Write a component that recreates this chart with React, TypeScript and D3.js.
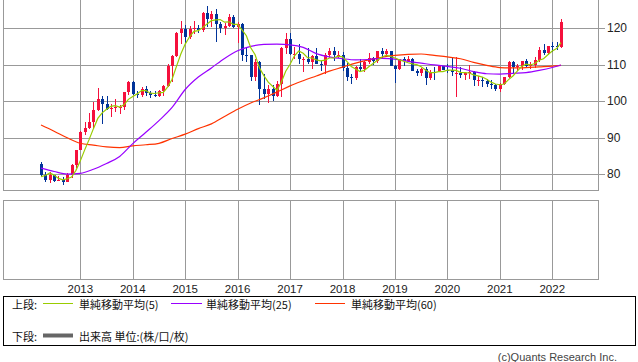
import React from 'react';
import * as d3 from 'd3';

// monthly candles, first one is April 2012
const startMonth = new Date(2012, 3, 1);

const opens = [
  82.9, 79.8, 78.4, 79.8, 78.1, 78.4, 77.9, 79.8, 82.5, 86.7,
  91.7, 92.6, 94.2, 97.5, 100.5, 99.1, 97.9, 98.1, 98.3, 98.4,
  102.4, 105.3, 102.0, 101.8, 103.2, 102.2, 101.8, 101.3, 102.8, 104.1,
  109.7, 112.3, 118.6, 119.8, 117.5, 119.6, 120.1, 119.4, 124.1, 122.5,
  123.9, 121.2, 119.9, 120.6, 123.1, 120.2, 121.1, 112.7, 112.5, 106.5,
  110.7, 103.2, 102.1, 103.4, 101.3, 104.8, 114.5, 117.0, 112.7, 112.8,
  111.4, 111.5, 110.8, 112.4, 110.3, 110.0, 112.5, 113.6, 112.5, 112.7,
  109.2, 106.7, 106.3, 109.3, 108.8, 110.7, 111.9, 111.0, 113.7, 112.9,
  113.6, 109.7, 108.9, 111.4, 110.9, 111.4, 108.3, 107.8, 108.7, 106.3,
  108.1, 108.0, 109.5, 108.6, 108.4, 107.4, 107.6, 107.2, 107.8, 107.9,
  105.8, 105.9, 105.5, 104.7, 104.3, 103.2, 104.7, 106.6, 110.7, 109.3,
  109.6, 111.1, 109.7, 110.0, 111.3, 114.0, 113.2, 115.1, 115.0, 114.8,
];

const highs = [
  83.3, 80.6, 80.6, 79.9, 79.6, 79.2, 80.3, 82.8, 86.8, 91.8,
  94.4, 96.7, 99.9, 103.7, 101.5, 101.5, 99.1, 100.6, 99.0, 102.4,
  105.4, 105.4, 102.8, 103.8, 104.1, 102.8, 102.8, 103.1, 104.5, 110.1,
  112.5, 118.9, 121.8, 120.8, 120.5, 122.0, 120.8, 124.5, 125.9, 124.6,
  125.3, 121.7, 121.5, 123.8, 123.6, 121.7, 121.5, 114.9, 112.7, 111.4,
  111.0, 107.5, 104.3, 104.3, 105.5, 114.8, 118.7, 118.6, 114.9, 115.5,
  112.2, 114.4, 112.5, 114.5, 111.0, 113.3, 114.5, 114.7, 113.8, 113.4,
  110.5, 107.3, 109.5, 111.4, 111.0, 113.2, 112.2, 113.8, 114.6, 114.2,
  113.7, 109.9, 111.5, 112.1, 112.4, 111.7, 108.8, 109.0, 109.3, 108.5,
  109.3, 109.7, 109.7, 110.3, 112.2, 112.0, 109.4, 108.1, 109.9, 108.2,
  107.0, 106.5, 106.1, 105.7, 104.7, 104.9, 106.7, 110.9, 110.9, 110.2,
  111.1, 111.6, 110.8, 112.1, 114.7, 115.5, 115.2, 116.3, 116.3, 122.4,
];

const lows = [
  79.6, 78.0, 77.6, 77.9, 78.1, 77.1, 77.8, 79.0, 81.7, 86.6,
  90.8, 92.5, 92.6, 97.3, 93.8, 97.6, 95.8, 97.0, 96.6, 97.6,
  101.6, 101.8, 100.8, 101.2, 101.4, 100.8, 101.1, 101.1, 101.5, 104.0,
  105.2, 112.1, 115.6, 115.9, 116.9, 118.3, 118.5, 118.9, 120.4, 120.4,
  116.2, 118.6, 118.1, 120.3, 119.9, 115.9, 110.9, 110.6, 105.5, 105.5,
  99.0, 100.7, 99.5, 100.1, 101.2, 101.2, 112.9, 112.5, 111.6, 110.1,
  108.1, 110.2, 108.8, 110.1, 108.3, 107.3, 111.7, 110.9, 111.9, 108.3,
  105.6, 104.6, 105.7, 108.1, 108.1, 110.3, 110.0, 110.4, 111.4, 112.3,
  109.5, 104.9, 108.5, 109.7, 110.8, 108.2, 106.8, 106.8, 104.5, 105.7,
  105.7, 107.9, 108.4, 107.7, 107.0, 101.2, 106.4, 105.9, 106.1, 104.2,
  104.2, 104.0, 104.0, 103.2, 102.9, 102.6, 104.4, 106.4, 107.5, 108.3,
  108.6, 109.1, 108.7, 109.1, 110.8, 112.5, 112.6, 113.5, 114.1, 114.6,
];

const closes = [
  79.8, 78.4, 79.8, 78.1, 78.4, 77.9, 79.8, 82.5, 86.7, 91.7,
  92.6, 94.2, 97.5, 100.5, 99.1, 97.9, 98.1, 98.3, 98.4, 102.4,
  105.3, 102.0, 101.8, 103.2, 102.2, 101.8, 101.3, 102.8, 104.1, 109.7,
  112.3, 118.6, 119.8, 117.5, 119.6, 120.1, 119.4, 124.1, 122.5, 123.9,
  121.2, 119.9, 120.6, 123.1, 120.2, 121.1, 112.7, 112.5, 106.5, 110.7,
  103.2, 102.1, 103.4, 101.3, 104.8, 114.5, 117.0, 112.8, 112.8, 111.4,
  111.5, 110.8, 112.4, 110.3, 110.0, 112.5, 113.6, 112.5, 112.7, 109.2,
  106.7, 106.3, 109.3, 108.8, 110.7, 111.9, 111.0, 113.7, 112.9, 113.6,
  109.7, 108.9, 111.4, 110.9, 111.4, 108.3, 107.8, 108.7, 106.3, 108.1,
  108.0, 109.5, 108.6, 108.4, 107.9, 107.6, 107.2, 107.8, 107.9, 105.8,
  105.9, 105.5, 104.7, 104.3, 103.2, 104.7, 106.6, 110.7, 109.3, 109.6,
  111.1, 109.7, 110.0, 111.3, 114.0, 113.2, 115.1, 115.0, 114.8, 121.7,
];

// 単純移動平均(5), one value per candle
const ma5 = [
  79.4, 79.7, 80.4, 79.8, 78.9, 78.5, 78.8, 79.3, 81.1, 83.7,
  86.7, 89.5, 92.5, 95.3, 96.8, 97.8, 98.6, 98.8, 98.4, 99.0,
  100.5, 101.3, 102.0, 102.9, 102.9, 102.2, 102.1, 102.3, 102.4, 103.9,
  106.0, 109.5, 112.9, 115.6, 117.6, 119.1, 119.3, 120.1, 121.1, 122.0,
  122.2, 122.3, 121.6, 121.7, 121.0, 121.0, 119.5, 117.9, 114.6, 112.7,
  109.1, 107.0, 105.2, 104.1, 103.0, 105.2, 108.2, 110.1, 112.4, 113.7,
  113.1, 111.9, 111.8, 111.3, 111.0, 111.2, 111.8, 111.8, 112.3, 112.1,
  110.9, 109.5, 108.8, 108.1, 108.4, 109.4, 110.3, 111.2, 112.0, 112.6,
  112.2, 111.8, 111.3, 110.9, 110.5, 110.2, 110.0, 109.4, 108.5, 107.8,
  107.8, 108.1, 108.1, 108.5, 108.5, 108.4, 107.9, 107.8, 107.7, 107.2,
  106.9, 106.6, 106.0, 105.2, 104.7, 104.5, 104.7, 105.9, 106.9, 108.2,
  109.5, 110.1, 109.9, 110.3, 111.2, 111.6, 112.7, 113.7, 114.4, 116.0,
];

// 25 / 60 month averages, read every third candle
const maIdx = [
  0, 3, 6, 9, 12, 15, 18, 21, 24, 27, 30, 33, 36, 39, 42, 45, 48, 51, 54, 57,
  60, 63, 66, 69, 72, 75, 78, 81, 84, 87, 90, 93, 96, 99, 102, 105, 108, 111, 114, 117, 119,
];
const ma25 = [
  81.7, 80.8, 80.1, 80.3, 81.4, 83.0, 84.9, 88.4, 91.5, 94.7, 98.3, 103.2, 106.6, 109.1, 111.7, 113.8, 115.0, 115.5, 115.6, 115.4,
  114.7, 113.0, 112.1, 111.6, 111.3, 111.4, 111.7, 111.5, 110.9, 110.4, 109.9, 109.5, 109.0, 108.1, 107.5, 107.4, 107.6, 107.8, 108.4, 109.2, 109.9,
];
const ma60 = [
  93.5, 91.8, 90.0, 88.5, 88.0, 87.5, 87.3, 87.8, 88.1, 88.5, 89.8, 91.0, 92.5, 93.8, 95.8, 97.8, 99.5, 100.9, 102.5, 104.2,
  105.6, 106.9, 108.2, 109.3, 110.4, 111.3, 112.0, 112.5, 112.8, 112.9, 112.5, 112.1, 111.6, 110.6, 109.8, 109.2, 109.1, 109.2, 109.4, 109.6, 109.8,
];

const priceTicks = [80, 90, 100, 110, 120];

const UP = '#f5103c';
const DOWN = '#003399';
const GRID = '#999999';
const C5 = '#99cc00';
const C25 = '#9900ff';
const C60 = '#ff3300';
const JP = '"Noto Sans CJK JP", sans-serif';
const LAT = '"Liberation Sans", Arial, sans-serif';

export default function App() {
  const width = 638;
  const height = 362;
  const plot = { left: 3.5, right: 598.5, top: 0, bottom: 190.5 };
  const vol = { top: 200.5, bottom: 279.5 };

  const x = d3.scaleLinear().domain([0, closes.length - 1]).range([41, 561]);
  const y = d3.scaleLinear().domain([80, 120]).range([174.4, 28]);

  const months = closes.map((_, i) => d3.timeMonth.offset(startMonth, i));
  const years = months
    .map((d, i) => ({ d, i }))
    .filter((m) => m.d.getMonth() === 0);
  const px = (i: number) => Math.round(x(i)) + 0.5;

  const line5 = d3
    .line<number>()
    .x((_, i) => x(i))
    .y((v) => y(v));
  const lineSparse = (vals: number[]) =>
    d3
      .line<number>()
      .x((_, i) => x(maIdx[i]))
      .y((v) => y(v))
      .curve(d3.curveMonotoneX)(vals) || '';

  return (
    <svg
      width={width}
      height={height}
      style={{ position: 'absolute', left: 0, top: 0, background: '#fff' }}
    >
      {/* price panel grid */}
      <g shapeRendering="crispEdges">
        {priceTicks.map((t) => (
          <g key={t}>
            <line
              x1={plot.left}
              x2={plot.right + 6}
              y1={Math.round(y(t)) + 0.5}
              y2={Math.round(y(t)) + 0.5}
              stroke={GRID}
            />
          </g>
        ))}
        {years.map((m) => (
          <line key={m.i} x1={px(m.i)} x2={px(m.i)} y1={plot.top} y2={plot.bottom} stroke={GRID} />
        ))}
        <line x1={plot.left} x2={plot.left} y1={plot.top} y2={plot.bottom} stroke={GRID} />
        <line x1={plot.right} x2={plot.right} y1={plot.top} y2={plot.bottom} stroke={GRID} />
        <line x1={plot.left} x2={plot.right} y1={plot.bottom} y2={plot.bottom} stroke={GRID} />
      </g>

      {priceTicks.map((t) => (
        <text
          key={t}
          x={607}
          y={y(t)}
          dominantBaseline="central"
          fontFamily={LAT}
          fontSize={12}
          fill="#222"
        >
          {t}
        </text>
      ))}

      {/* candles */}
      <g shapeRendering="crispEdges">
        {closes.map((c, i) => {
          const o = opens[i];
          const col = c >= o ? UP : DOWN;
          const top = Math.round(y(Math.max(o, c)));
          const bot = Math.round(y(Math.min(o, c)));
          return (
            <g key={i}>
              <line x1={px(i)} x2={px(i)} y1={y(highs[i])} y2={y(lows[i])} stroke={col} />
              <rect
                x={Math.round(x(i)) - 1}
                y={top}
                width={3}
                height={Math.max(1, bot - top)}
                fill={col}
              />
            </g>
          );
        })}
      </g>

      {/* moving averages */}
      <path d={lineSparse(ma60)} fill="none" stroke={C60} strokeWidth={1.2} />
      <path d={lineSparse(ma25)} fill="none" stroke={C25} strokeWidth={1.2} />
      <path d={line5(ma5) || ''} fill="none" stroke={C5} strokeWidth={1.2} />

      {/* volume panel (empty) */}
      <g shapeRendering="crispEdges">
        <rect
          x={plot.left}
          y={vol.top}
          width={plot.right - plot.left}
          height={vol.bottom - vol.top}
          fill="none"
          stroke={GRID}
        />
        {years.map((m) => (
          <line key={m.i} x1={px(m.i)} x2={px(m.i)} y1={vol.top} y2={vol.bottom} stroke={GRID} />
        ))}
      </g>
      {years.map((m) => (
        <text
          key={m.i}
          x={x(m.i)}
          y={289}
          textAnchor="middle"
          dominantBaseline="central"
          fontFamily={LAT}
          fontSize={11.5}
          fill="#222"
        >
          {d3.timeFormat('%Y')(m.d)}
        </text>
      ))}

      {/* legend */}
      <rect x={3.5} y={296.5} width={632} height={49} fill="none" stroke="#000" shapeRendering="crispEdges" />
      <g fontFamily={JP} fontSize={11} fill="#111">
        <text x={12} y={303.5} dominantBaseline="central">上段:</text>
        <line x1={43} x2={73} y1={303.5} y2={303.5} stroke={C5} strokeWidth={1} />
        <text x={79} y={303.5} dominantBaseline="central">単純移動平均(5)</text>
        <line x1={171} x2={202} y1={303.5} y2={303.5} stroke={C25} strokeWidth={1} />
        <text x={206} y={303.5} dominantBaseline="central">単純移動平均(25)</text>
        <line x1={315} x2={345} y1={303.5} y2={303.5} stroke={C60} strokeWidth={1} />
        <text x={351} y={303.5} dominantBaseline="central">単純移動平均(60)</text>

        <text x={12} y={335.5} dominantBaseline="central">下段:</text>
        <line x1={43} x2={73} y1={335.5} y2={335.5} stroke="#666" strokeWidth={4} />
        <text x={79} y={335.5} dominantBaseline="central">出来高 単位:(株/口/枚)</text>
      </g>

      <text
        x={617}
        y={357}
        textAnchor="end"
        dominantBaseline="central"
        fontFamily={LAT}
        fontSize={11}
        fill="#444"
      >
        (c)Quants Research Inc.
      </text>
    </svg>
  );
}
